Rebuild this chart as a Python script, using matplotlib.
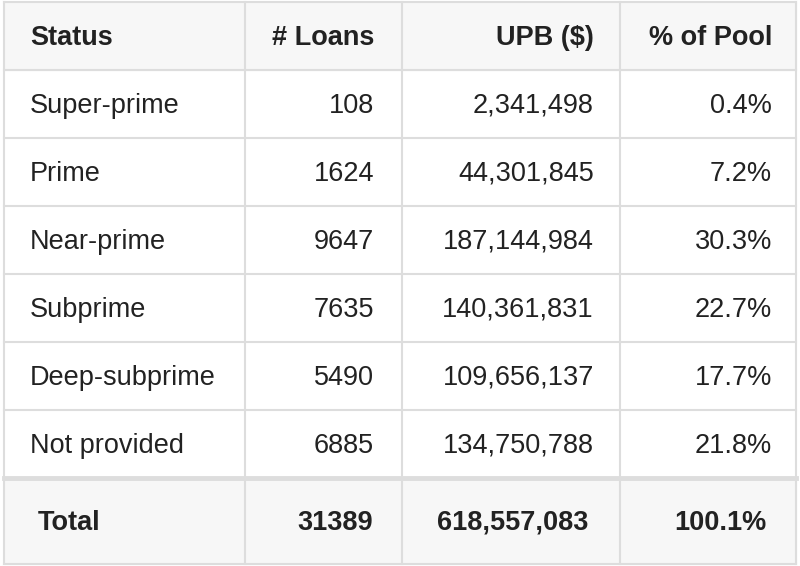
import matplotlib
matplotlib.use("Agg")
import matplotlib.pyplot as plt
from matplotlib.patches import Rectangle

headers = ["Status", "# Loans", "UPB ($)", "% of Pool"]
status = ["Super-prime", "Prime", "Near-prime", "Subprime", "Deep-subprime", "Not provided"]
loans = ["108", "1624", "9647", "7635", "5490", "6885"]
upb = ["2,341,498", "44,301,845", "187,144,984", "140,361,831", "109,656,137", "134,750,788"]
pool = ["0.4%", "7.2%", "30.3%", "22.7%", "17.7%", "21.8%"]
total = ["Total", "31389", "618,557,083", "100.1%"]

W, H = 800, 566
fig = plt.figure(figsize=(8, 5.66), dpi=100)
ax = fig.add_axes([0, 0, 1, 1])
ax.set_xlim(0, W); ax.set_ylim(H, 0); ax.axis("off")
plt.rcParams['font.family'] = ['Liberation Sans', 'DejaVu Sans']

xs = [4, 245, 402, 620, 796]
ys = [2, 70, 138, 206, 274, 342, 410, 478, 564]
grid = "#dddddd"
ax.add_patch(Rectangle((xs[0], ys[0]), xs[-1]-xs[0], ys[1]-ys[0], color="#f7f7f7", zorder=0))
ax.add_patch(Rectangle((xs[0], ys[7]), xs[-1]-xs[0], ys[8]-ys[7], color="#f7f7f7", zorder=0))
for x in xs:
    ax.plot([x, x], [ys[0], ys[-1]], color=grid, lw=1.5)
for i, y in enumerate(ys):
    ax.plot([xs[0], xs[-1]], [y, y], color=grid, lw=3.5 if i == 7 else 1.5)

fs = 19.5
rx = [374, 594, 772]
def row(vals, y, bold=False, lx=30, rxs=rx):
    w = "bold" if bold else "normal"
    ax.text(lx, y, vals[0], ha="left", va="center", fontsize=fs, weight=w, color="#222222")
    for v, x in zip(vals[1:], rxs):
        ax.text(x, y, v, ha="right", va="center", fontsize=fs, weight=w, color="#222222")

dy = 2
row(headers, (ys[0]+ys[1])/2 + dy, bold=True)
for i in range(len(status)):
    row([status[i], loans[i], upb[i], pool[i]], (ys[i+1]+ys[i+2])/2 + dy)
row(total, (ys[7]+ys[8])/2 + dy, bold=True, lx=38, rxs=[373, 588, 766])

fig.savefig("out.png", dpi=100)
